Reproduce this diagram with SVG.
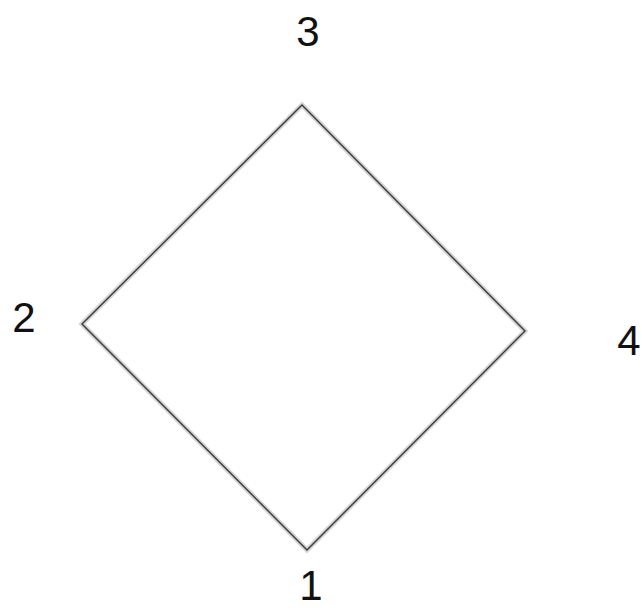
<svg xmlns="http://www.w3.org/2000/svg" width="642" height="610" viewBox="0 0 642 610">
  <style>
    .lbl { font-family: "Liberation Sans", Arial, sans-serif; font-size: 42px; fill: #111; text-anchor: middle; }
    .halo { fill: none; stroke: #d4d4d4; stroke-width: 5; stroke-linejoin: miter; }
    .edge { fill: none; stroke: #3a3a3a; stroke-width: 1.4; stroke-linejoin: miter; }
  </style>
  <rect width="642" height="610" fill="#ffffff"/>
  <g id="connectors">
    <polygon class="halo" points="302,105 525,331 307,550 82,324"/>
    <polygon class="edge" points="302,105 525,331 307,550 82,324"/>
  </g>
  <g id="node-3"><text class="lbl" x="308" y="46">3</text></g>
  <g id="node-2"><text class="lbl" x="24" y="332">2</text></g>
  <g id="node-4"><text class="lbl" x="629" y="355">4</text></g>
  <g id="node-1"><text class="lbl" x="311" y="600">1</text></g>
</svg>
